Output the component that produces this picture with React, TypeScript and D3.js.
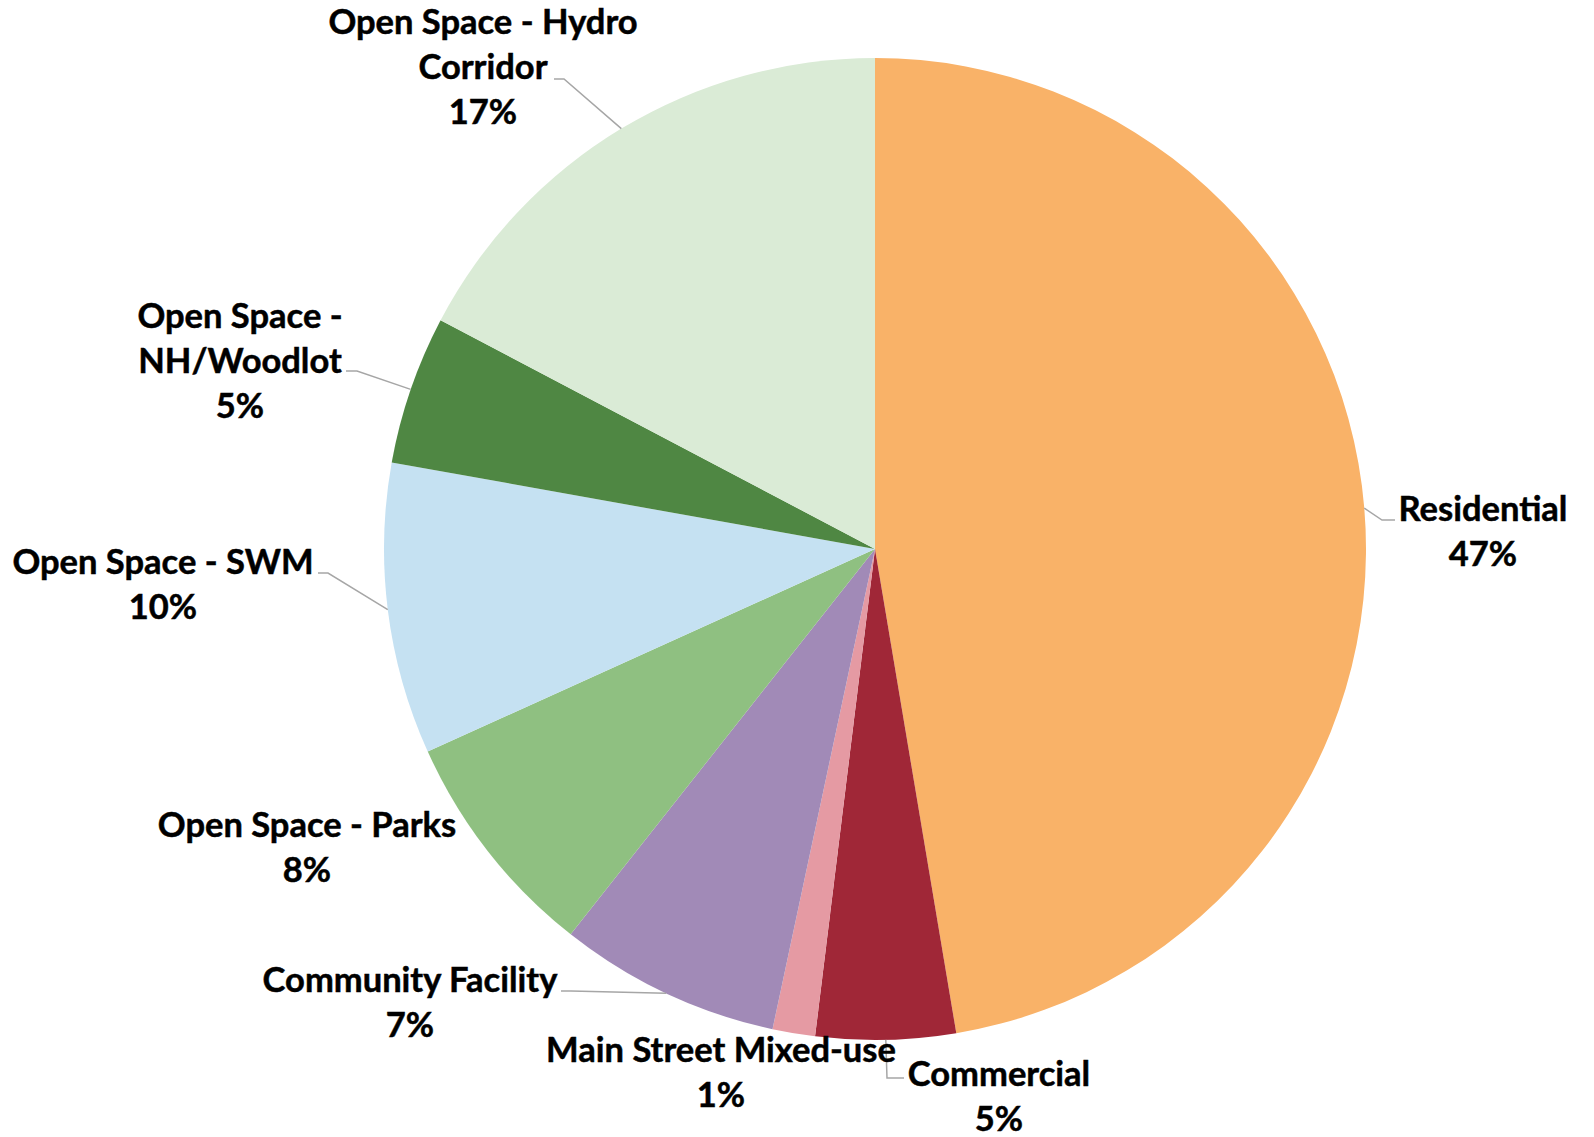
import React from "react";
import * as d3 from "d3";

// ---- data ----
const categories = [
  "Residential",
  "Commercial",
  "Main Street Mixed-use",
  "Community Facility",
  "Open Space - Parks",
  "Open Space - SWM",
  "Open Space - NH/Woodlot",
  "Open Space - Hydro Corridor",
];
const values = [47.4, 4.6, 1.4, 7.3, 7.6, 9.6, 4.9, 17.3];
const colors = [
  "#F9B268",
  "#A02737",
  "#E59AA3",
  "#A18AB7",
  "#8FC081",
  "#C5E1F2",
  "#4F8743",
  "#DAEBD6",
];
// label line breaks (text only)
const labelLines = [
  ["Residential"],
  ["Commercial"],
  ["Main Street Mixed-use"],
  ["Community Facility"],
  ["Open Space - Parks"],
  ["Open Space - SWM"],
  ["Open Space -", "NH/Woodlot"],
  ["Open Space - Hydro", "Corridor"],
];

// ---- layout (positions only) ----
const W = 1594;
const H = 1137;
const CX = 875;
const CY = 549;
const R = 491;
const LINE = 45;
const FONT = 34.5;
// label center x, first baseline y
const labelAnchor: [number, number][] = [
  [1483, 521],
  [999, 1086],
  [721, 1062],
  [410, 992],
  [307, 837],
  [163, 574],
  [240, 328],
  [483, 34],
];
// leader label-side points (null = none)
const leaderPts: ([number, number][] | null)[] = [
  [[1395, 520], [1382, 520]],
  [[904, 1078], [887, 1078]],
  null,
  [[561, 991], [571, 991]],
  null,
  [[318, 573], [328, 573]],
  [[346, 371], [357, 371]],
  [[554, 79], [564, 79]],
];

export default function App() {
  const pie = d3
    .pie<number>()
    .sort(null)
    .value((d) => d)
    .startAngle(0)
    .endAngle(2 * Math.PI);
  const arcs = pie(values);
  const arc = d3.arc<d3.PieArcDatum<number>>().innerRadius(0).outerRadius(R);
  const total = d3.sum(values);

  return (
    <svg
      width={W}
      height={H}
      style={{ position: "absolute", left: 0, top: 0, background: "#fff" }}
      fontFamily="Lato, 'Open Sans', sans-serif"
    >
      <g transform={`translate(${CX},${CY})`}>
        {arcs.map((a, i) => (
          <path key={i} d={arc(a) || ""} fill={colors[i]} />
        ))}
      </g>
      {arcs.map((a, i) => {
        const pts = leaderPts[i];
        if (!pts) return null;
        const mid = (a.startAngle + a.endAngle) / 2;
        const edge: [number, number] = [
          CX + R * Math.sin(mid),
          CY - R * Math.cos(mid),
        ];
        const all = [...pts, edge];
        const line = d3.line()(all) || "";
        return (
          <path
            key={"l" + i}
            d={line}
            fill="none"
            stroke="#A6A6A6"
            strokeWidth={1.5}
          />
        );
      })}
      {arcs.map((a, i) => {
        const [x, y] = labelAnchor[i];
        const pct = Math.round((values[i] / total) * 100) + "%";
        const lines = [...labelLines[i], pct];
        return (
          <text
            key={"t" + i}
            x={x}
            y={y}
            textAnchor="middle"
            fontSize={FONT}
            fontWeight={700}
            fill="#000"
            stroke="#000"
            strokeWidth={0.5}
          >
            {lines.map((t, j) => (
              <tspan key={j} x={x} y={y + j * LINE}>
                {t}
              </tspan>
            ))}
          </text>
        );
      })}
    </svg>
  );
}
